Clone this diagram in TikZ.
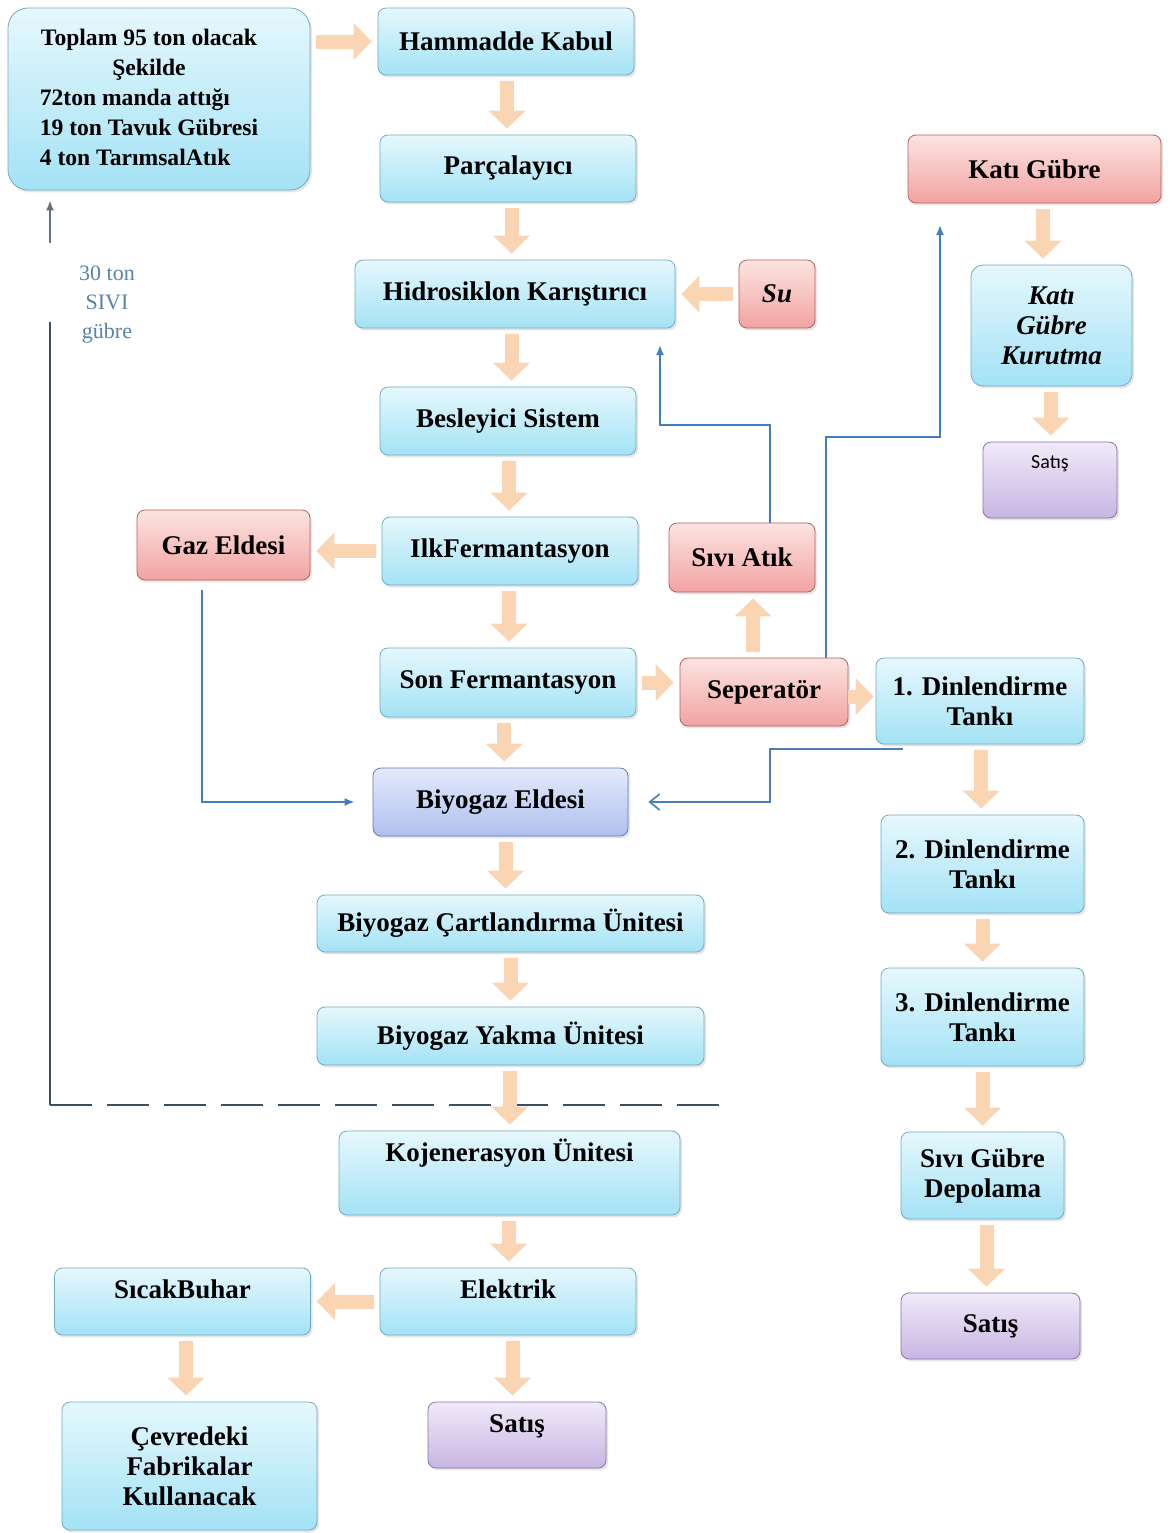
\documentclass[tikz,border=0pt]{standalone}
\usepackage{fontspec}
\setmainfont{Liberation Serif}
\newfontfamily\kucukfont{Carlito}
\usetikzlibrary{arrows.meta,shadows,calc}

\definecolor{maviUst}{HTML}{E6F8FD}
\definecolor{maviAlt}{HTML}{A3E2F5}
\definecolor{maviKenar}{HTML}{74AAC0}
\definecolor{kirmiziUst}{HTML}{FCE4E2}
\definecolor{kirmiziAlt}{HTML}{F1A3A1}
\definecolor{kirmiziKenar}{HTML}{B5605C}
\definecolor{morUst}{HTML}{F0EAF9}
\definecolor{morAlt}{HTML}{C8B5E3}
\definecolor{morKenar}{HTML}{8A74A8}
\definecolor{lacUst}{HTML}{E4EAFB}
\definecolor{lacAlt}{HTML}{AEC0EE}
\definecolor{lacKenar}{HTML}{5E7EB8}
\definecolor{okRenk}{HTML}{FAD5B4}
\definecolor{cizgi}{HTML}{3F7FBF}
\definecolor{koyu}{HTML}{3B4F63}
\definecolor{etiket}{HTML}{5A82A8}

\tikzset{
every node/.style={rounded corners=4pt,align=center,inner sep=2pt,font=\fontsize{13.5}{15}\selectfont\bfseries},
golge/.style={drop shadow={opacity=0.2,shadow xshift=1pt,shadow yshift=-1.2pt}},
style1/.style={draw=maviKenar,thin,top color=maviUst,bottom color=maviAlt,golge},
style2/.style={draw=kirmiziKenar,thin,top color=kirmiziUst,bottom color=kirmiziAlt,golge},
style3/.style={draw=morKenar,thin,top color=morUst,bottom color=morAlt,golge},
style4/.style={draw=lacKenar,thin,top color=lacUst,bottom color=lacAlt,golge},
egik/.style={font=\fontsize{13.5}{15}\selectfont\bfseries\itshape},
ok/.style={line width=7pt,draw=okRenk,-{Triangle[width=18pt,length=9pt]},shorten <=3pt,shorten >=3pt},
mavicizgi/.style={draw=cizgi,line width=0.9pt,-{Latex[length=5pt,width=4pt]}},
acikok/.style={draw=cizgi!80!gray,line width=0.8pt,-{Straight Barb[length=5pt,width=8pt]}},
kesik/.style={draw=koyu,line width=1pt,dash pattern=on 21pt off 7.5pt},
donus/.style={draw=koyu,line width=0.8pt}
}

\begin{document}
\begin{tikzpicture}[x=0.5pt,y=-0.5pt]
\fill[white] (0,0) rectangle (1174,1533);
\useasboundingbox (0,0) rectangle (1174,1533);

% ana hat
\node[style1,minimum width=151pt,minimum height=91pt,rounded corners=10pt,font=\fontsize{11.8}{15}\selectfont\bfseries] (src) at (159,99)
  {\begin{tabular}{@{}l@{}}\multicolumn{1}{@{}c@{}}{Toplam 95 ton olacak}\\ \multicolumn{1}{@{}c@{}}{Şekilde}\\ 72ton manda attığı\\ 19 ton Tavuk Gübresi\\ 4 ton TarımsalAtık\end{tabular}\hspace*{10pt}};
\node[style1,minimum width=128pt,minimum height=33.5pt] (ham) at (506,41.5) {Hammadde Kabul};
\node[style1,minimum width=128pt,minimum height=33.5pt] (parca) at (508,168.5) {Parçalayıcı};
\node[style1,minimum width=160pt,minimum height=34pt] (hidro) at (515,294) {Hidrosiklon Karıştırıcı};
\node[style2,egik,minimum width=38pt,minimum height=34pt] (su) at (777,294) {Su};
\node[style1,minimum width=128pt,minimum height=34pt] (besle) at (508,421) {Besleyici Sistem};
\node[style1,minimum width=128pt,minimum height=34pt] (ilk) at (510,551) {IlkFermantasyon};
\node[style2,minimum width=86.5pt,minimum height=35pt] (gaz) at (223.5,545) {Gaz Eldesi};
\node[style1,minimum width=128pt,minimum height=34.5pt] (son) at (508,682.5) {Son Fermantasyon};
\node[style2,minimum width=73pt,minimum height=34.5pt] (siviatik) at (742,557.5) {Sıvı Atık};
\node[style2,minimum width=84pt,minimum height=34pt] (sep) at (764,692) {Seperatör};
\node[style4,minimum width=127.5pt,minimum height=34pt] (biyo) at (500.5,802) {Biyogaz Eldesi};
\node[style1,minimum width=193.5pt,minimum height=28.5pt] (cart) at (510.5,923.5) {Biyogaz Çartlandırma Ünitesi};
\node[style1,minimum width=193.5pt,minimum height=29pt] (yakma) at (510.5,1036) {Biyogaz Yakma Ünitesi};
\node[style1,minimum width=170.5pt,minimum height=42pt,text depth=23pt] (kojen) at (509.5,1173) {Kojenerasyon Ünitesi};
\node[style1,minimum width=128pt,minimum height=33.5pt,text depth=12pt] (elek) at (508,1301.5) {Elektrik};
\node[style1,minimum width=128pt,minimum height=33.5pt,text depth=12pt] (sicak) at (182.5,1301.5) {SıcakBuhar};
\node[style1,minimum width=127.5pt,minimum height=64pt] (cevre) at (189.5,1466) {Çevredeki\\Fabrikalar\\Kullanacak};
\node[style3,minimum width=89pt,minimum height=33pt,text depth=11pt] (satis1) at (517,1435) {Satış};

% sag kolon
\node[style2,minimum width=126.5pt,minimum height=34pt] (kati) at (1034.5,169) {Katı Gübre};
\node[style1,egik,minimum width=80.5pt,minimum height=60.5pt,rounded corners=6pt] (kurut) at (1051.5,325.5) {Katı\\Gübre\\Kurutma};
\node[style3,minimum width=67pt,minimum height=38pt,font=\kucukfont\fontsize{10}{12}\selectfont,text depth=18pt] (satis2) at (1050,480) {Satış};
\node[style1,minimum width=104pt,minimum height=43pt] (din1) at (980,701) {1. Dinlendirme\\Tankı};
\node[style1,minimum width=101.5pt,minimum height=49pt] (din2) at (982.5,864) {2. Dinlendirme\\Tankı};
\node[style1,minimum width=101.5pt,minimum height=49pt] (din3) at (982.5,1017) {3. Dinlendirme\\Tankı};
\node[style1,minimum width=81.5pt,minimum height=43.5pt] (sivig) at (982.5,1175.5) {Sıvı Gübre\\Depolama};
\node[style3,minimum width=89.5pt,minimum height=33pt] (satis3) at (990.5,1326) {Satış};

\node[font=\fontsize{11}{14.5}\selectfont,text=etiket] (etk) at (107,305) {30 ton\\SIVI\\gübre};

% geri donus hatti
\coordinate (g1) at (733,1105);
\coordinate (g2) at (50,1105);
\coordinate (g3) at (50,322);
\coordinate (g4) at (50,243);
\draw[kesik] (g2) -- (g1);
\draw[donus] (g2) -- (g3);
\draw[donus,draw=koyu!80,-{Latex[length=5pt,width=4pt]},shorten >=5pt] (g4) -- (src.south -| g4);

% mavi baglantilar
\coordinate (k1) at (770,425);
\coordinate (k2) at (660,345);
\draw[mavicizgi] (siviatik.north -| k1) -- (k1) -| (k2);
\coordinate (k3) at (826,437);
\coordinate (k4) at (940,225);
\draw[mavicizgi] (sep.north -| k3) -- (k3) -| (k4);
\coordinate (k5) at (202,800);
\draw[mavicizgi,shorten <=5pt,shorten >=9pt] (gaz.south -| k5) |- (biyo.west);
\coordinate (k6) at (903,749);
\coordinate (k7) at (770,749);
\draw[acikok,shorten >=10pt] (k6) -- (k7) |- (biyo.east);

% ok (akis) baglantilari
\foreach \ust/\alt in {ham/parca,parca/hidro,hidro/besle,besle/ilk,ilk/son,son/biyo,biyo/cart,cart/yakma,yakma/kojen,kojen/elek,elek/satis1,sicak/cevre,kati/kurut,kurut/satis2,din1/din2,din2/din3,din3/sivig,sivig/satis3}
{
  \path ($(\ust)!.5!(\alt)$) coordinate (m);
  \draw[ok] (\ust.south -| m) -- (\alt.north -| m);
}
\draw[ok] (src.east |- ham) -- (ham.west);
\draw[ok] (su) -- (hidro);
\draw[ok] (ilk.west) -- (ilk.west -| gaz.east);
\draw[ok] (son.east) -- (son.east -| sep.west);
\draw[ok] (elek.west) -- (elek.west -| sicak.east);
\path ($(sep)!.5!(siviatik)$) coordinate (m);
\draw[ok] (sep.north -| m) -- (siviatik.south -| m);
\path ($(sep)!.5!(din1)$) coordinate (m);
\draw[ok,shorten <=0pt,shorten >=1pt] (sep.east |- m) -- (din1.west |- m);
\end{tikzpicture}
\end{document}
